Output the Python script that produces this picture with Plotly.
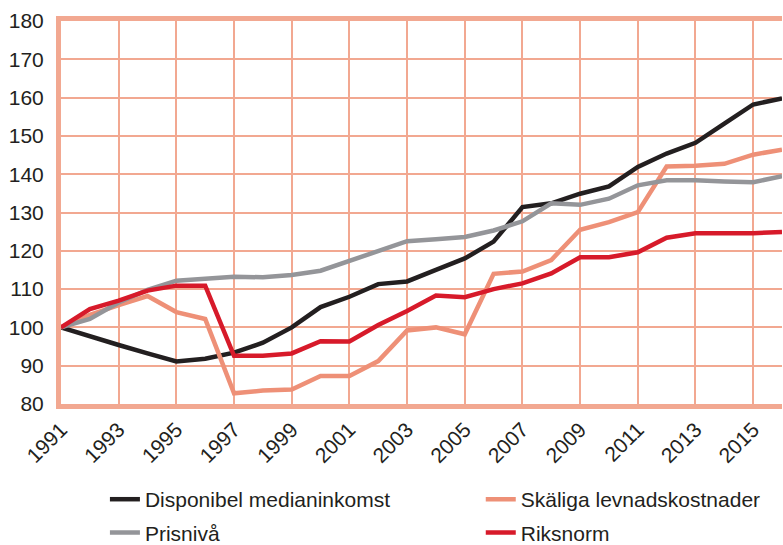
#!/usr/bin/env python3
# coding: utf-8

import plotly.graph_objects as go

years = list(range(1991, 2017))

disponibel = [100, 97.6, 95.4, 93.2, 91.1, 91.8, 93.4, 96.0, 100.0, 105.3, 108.0, 111.3, 112.0,
              115.0, 118.0, 122.4, 131.4, 132.4, 134.9, 136.8, 141.9, 145.4, 148.2, 153.2, 158.2, 159.8]
skaliga = [100, 103.3, 105.8, 108.2, 104.0, 102.2, 82.8, 83.5, 83.8, 87.3, 87.3, 91.2, 99.2,
           100.0, 98.2, 114.0, 114.6, 117.6, 125.5, 127.5, 130.1, 142.0, 142.2, 142.7, 145.1, 146.4]
prisniva = [100, 102.2, 106.5, 109.8, 112.2, 112.6, 113.2, 113.1, 113.7, 114.8, 117.4, 120.1, 122.5,
            123.0, 123.6, 125.3, 127.7, 132.4, 132.0, 133.6, 137.1, 138.4, 138.4, 138.1, 137.9, 139.5]
riksnorm = [100, 104.8, 107.0, 109.6, 110.9, 110.9, 92.6, 92.6, 93.2, 96.4, 96.3, 100.6, 104.3,
            108.3, 107.9, 110.0, 111.5, 114.1, 118.3, 118.3, 119.6, 123.4, 124.6, 124.6, 124.6, 124.9]

x_ticks = list(range(1991, 2017, 2)) + [2016]
x_labels = [str(y) for y in range(1991, 2017, 2)] + ['']
y_ticks = list(range(80, 181, 10))

# name, values, colour, which legend column
series = [
    ('Disponibel medianinkomst', disponibel, '#231f20', 'legend'),
    ('Skäliga levnadskostnader', skaliga, '#ee9077', 'legend2'),
    ('Prisnivå', prisniva, '#949599', 'legend'),
    ('Riksnorm', riksnorm, '#d71a2a', 'legend2'),
]

grid = '#f2a891'
font = 'Liberation Sans, Arial, sans-serif'

fig = go.Figure()
for name, values, color, leg in series:
    fig.add_trace(go.Scatter(x=years, y=values, name=name, mode='lines', legend=leg,
                             legendgroup=name, line=dict(color=color, width=4.5)))

fig.update_xaxes(range=[1991, 2016], tickvals=x_ticks, ticktext=x_labels, tickangle=-45,
                 showgrid=True, gridcolor=grid, gridwidth=2, zeroline=False, automargin=False,
                 showline=True, linecolor=grid, linewidth=5, mirror=True, ticks='',
                 tickfont=dict(size=21, color='#231f20'))
fig.update_yaxes(range=[80, 180], tickvals=y_ticks, showgrid=True, gridcolor=grid, gridwidth=2,
                 zeroline=False, showline=True, linecolor=grid, linewidth=5, ticks='',
                 automargin=False, ticklabelstandoff=8, tickfont=dict(size=21, color='#231f20'))

leg_style = dict(orientation='v', xref='container', yref='container', y=0.121,
                 xanchor='left', yanchor='top', font=dict(size=21), tracegroupgap=3,
                 bgcolor='rgba(0,0,0,0)')

fig.update_layout(
    width=783, height=545,
    margin=dict(l=61, r=1, t=21, b=141, autoexpand=False),
    plot_bgcolor='white', paper_bgcolor='white',
    font=dict(family=font, size=21, color='#231f20'),
    legend=dict(x=0.134, **leg_style),
    legend2=dict(x=0.614, **leg_style),
)

# drop the default page margin so the figure fills the window exactly
fig.write_html('out.html', config={'displayModeBar': False},
               post_script="document.body.style.margin = '0';")
